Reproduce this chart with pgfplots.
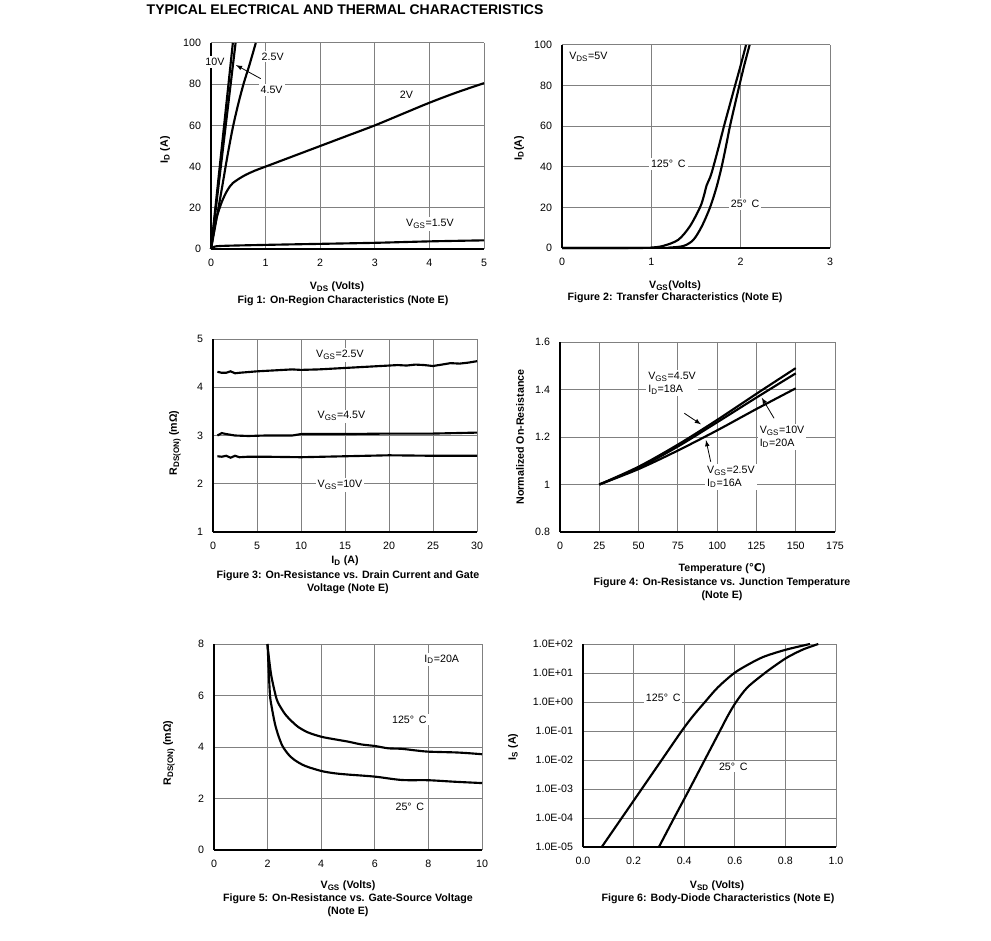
\documentclass[border=0pt]{standalone}
\usepackage{fontspec}
\setmainfont{Liberation Sans}
\newfontfamily\dejavu{DejaVu Sans}
\usepackage{pgfplots}
\pgfplotsset{compat=1.18}

\pgfplotsset{
  dsheet/.style={
    scale only axis, anchor=south west, clip=false,
    axis lines=left, axis line style={-, line width=1.6pt, black},
    grid=major, grid style={line width=0.75pt, gray},
    major tick length=0pt, minor tick length=0pt,
    tick label style={font=\fontsize{8}{9}\selectfont},
    /pgf/number format/assume math mode=true,
    xticklabel style={yshift=-4pt}, yticklabel style={xshift=-4pt},
  },
}
\tikzset{
  crv/.style={black, line width=1.6pt, mark=none},
  lbl/.style={font=\fontsize{8}{9.5}\selectfont, fill=white, inner sep=1.5pt},
  ttl/.style={font=\fontsize{8}{10}\selectfont\bfseries, align=center},
  arr/.style={-latex, line width=0.6pt, black},
}

\begin{document}
\begin{tikzpicture}
\path[use as bounding box] (0,0) rectangle (743.25pt,-705.75pt);

% Fig 1: on-region characteristics
\begin{axis}[dsheet, at={(158.25pt,-186.75pt)}, width=204.75pt, height=154.5pt,
  xmin=0, xmax=5, ymin=0, ymax=100, xtick={0,...,5}, ytick={0,20,...,100}]
\addplot[crv] coordinates {(0,0) (0.40,100)};
\addplot[crv] coordinates {(0,0) (0.45,100)};
\addplot[crv, smooth] coordinates {(0,0) (0.1,14.5) (0.2,29.5) (0.3,45) (0.4,59) (0.5,70.5) (0.6,80.5) (0.7,89) (0.82,100)};
\addplot[crv, smooth] coordinates {(0,0) (0.05,8) (0.1,15) (0.2,23) (0.3,28.5) (0.4,32) (0.6,35.5) (0.8,38) (1,40) (1.5,45) (2,50) (2.5,55) (3,60) (3.5,65.5) (4,71) (4.5,76) (5,80.5)};
\addplot[crv, smooth] coordinates {(0,0) (0.05,1) (0.2,1.5) (1,2) (2,2.5) (3,3) (4,3.7) (5,4.2)};
\node[lbl] at (axis cs:0.073,90.8) {10V};
\node[lbl] at (axis cs:1.13,93.4) {2.5V};
\node[lbl] at (axis cs:1.11,77.2) {4.5V};
\draw[arr] (axis cs:0.91,82.7) -- (axis cs:0.458,89.3);
\node[lbl] at (axis cs:3.58,75.1) {2V};
\node[lbl] at (axis cs:4.01,12.1) {V\textsubscript{GS}=1.5V};
\end{axis}

% Fig 2: transfer characteristics
\begin{axis}[dsheet, at={(421.5pt,-186pt)}, width=201pt, height=152.25pt,
  xmin=0, xmax=3, ymin=0, ymax=100, xtick={0,...,3}, ytick={0,20,...,100}]
\addplot[crv, smooth] coordinates {(0,0) (0.9,0.05) (1.0,0.2) (1.13,1) (1.30,4) (1.43,10.6) (1.545,20) (1.59,26) (1.62,31) (1.66,35) (1.694,40) (1.755,50) (1.813,60) (1.875,70) (1.937,80) (2.0,90) (2.06,100)};
\addplot[crv, smooth] coordinates {(0,0) (1.1,0.05) (1.2,0.2) (1.36,1) (1.47,4) (1.564,10.6) (1.657,20) (1.73,30) (1.787,40) (1.835,50) (1.88,60) (1.932,70) (1.985,80) (2.04,90) (2.10,100)};
\node[lbl] at (axis cs:0.295,94.2) {V\textsubscript{DS}=5V};
\node[lbl] at (axis cs:1.19,41.4) {125° \,C};
\node[lbl] at (axis cs:2.05,21.7) {25° \,C};
\end{axis}

% Fig 3: on-resistance vs drain current
\begin{axis}[dsheet, at={(159.75pt,-399pt)}, width=198pt, height=144.75pt,
  xmin=0, xmax=30, ymin=1, ymax=5, xtick={0,5,...,30}, ytick={1,...,5}]
\addplot[crv] coordinates {(0.5,4.32) (1,4.30) (1.5,4.30) (2,4.33) (2.5,4.29) (3,4.30) (5,4.33) (7,4.35) (9,4.37) (10,4.36) (12,4.37) (14,4.39) (16,4.41) (18,4.43) (20,4.45) (21,4.46) (22,4.45) (23,4.47) (24,4.46) (25,4.44) (26,4.47) (27,4.50) (28,4.49) (29,4.51) (30,4.54)};
\addplot[crv] coordinates {(0.5,3.0) (1,3.05) (1.5,3.03) (2.5,3.0) (4,2.99) (6,3.0) (9,3.0) (10,3.03) (15,3.03) (20,3.04) (25,3.04) (30,3.06)};
\addplot[crv] coordinates {(0.5,2.57) (1,2.56) (1.5,2.58) (2,2.54) (2.5,2.58) (3,2.55) (4,2.56) (6,2.56) (10,2.55) (15,2.57) (20,2.59) (25,2.58) (30,2.58)};
\node[lbl] at (axis cs:14.43,4.668) {V\textsubscript{GS}=2.5V};
\node[lbl] at (axis cs:14.6,3.40) {V\textsubscript{GS}=4.5V};
\node[lbl] at (axis cs:14.43,1.974) {V\textsubscript{GS}=10V};
\end{axis}

% Fig 4: on-resistance vs junction temperature
\begin{axis}[dsheet, at={(420pt,-399pt)}, width=206.25pt, height=142.5pt,
  xmin=0, xmax=175, ymin=0.8, ymax=1.6, xtick={0,25,...,175}, ytick={0.8,1,1.2,1.4,1.6}]
\addplot[crv, smooth] coordinates {(25,1) (50,1.075) (75,1.168) (100,1.272) (125,1.382) (150,1.49)};
\addplot[crv, smooth] coordinates {(25,1) (50,1.07) (75,1.16) (100,1.262) (125,1.366) (150,1.468)};
\addplot[crv, smooth] coordinates {(25,1) (50,1.065) (75,1.143) (100,1.228) (125,1.318) (150,1.405)};
\node[lbl, align=left] at (axis cs:71.3,1.427) {V\textsubscript{GS}=4.5V\\I\textsubscript{D}=18A};
\draw[arr] (axis cs:79.1,1.30) -- (axis cs:89.7,1.2535);
\node[lbl, align=left] at (axis cs:141.3,1.20) {V\textsubscript{GS}=10V\\I\textsubscript{D}=20A};
\draw[arr] (axis cs:136.2,1.279) -- (axis cs:128.4,1.3655);
\node[lbl, align=left] at (axis cs:108.8,1.032) {V\textsubscript{GS}=2.5V\\I\textsubscript{D}=16A};
\draw[arr] (axis cs:95.9,1.096) -- (axis cs:92.9,1.187);
\end{axis}

% Fig 5: on-resistance vs gate-source voltage
\begin{axis}[dsheet, at={(160.5pt,-637.5pt)}, width=201pt, height=154.5pt,
  xmin=0, xmax=10, ymin=0, ymax=8, xtick={0,2,...,10}, ytick={0,2,...,8}]
\addplot[crv, smooth] coordinates {(1.99,8) (2.08,7.2) (2.15,6.7) (2.3,6.0) (2.4,5.7) (2.65,5.28) (2.9,5.0) (3.14,4.78) (3.5,4.57) (4,4.40) (4.5,4.3) (5,4.21) (5.5,4.1) (6,4.04) (6.5,3.95) (7,3.93) (7.5,3.87) (8,3.82) (9,3.79) (9.5,3.76) (10,3.72)};
\addplot[crv, smooth] coordinates {(2.0,8) (2.04,7) (2.09,6) (2.15,5.57) (2.27,4.92) (2.4,4.45) (2.55,4.05) (2.77,3.72) (3.0,3.5) (3.39,3.27) (4,3.07) (4.5,2.98) (5,2.93) (6,2.85) (7,2.72) (8,2.71) (9,2.65) (10,2.6)};
\node[lbl] at (axis cs:8.5,7.41) {I\textsubscript{D}=20A};
\node[lbl] at (axis cs:7.29,5.07) {125° \,C};
\node[lbl] at (axis cs:7.31,1.68) {25° \,C};
\end{axis}

% Fig 6: body-diode characteristics
\begin{axis}[dsheet, at={(437.25pt,-635.25pt)}, width=189.75pt, height=152.25pt,
  xmin=0, xmax=1, ymin=1e-5, ymax=1e2, ymode=log,
  xtick={0,0.2,0.4,0.6,0.8,1},
  xticklabel style={/pgf/number format/.cd, fixed, fixed zerofill, precision=1},
  ytick={1e-5,1e-4,1e-3,1e-2,1e-1,1,1e1,1e2},
  yticklabels={1.0E-05,1.0E-04,1.0E-03,1.0E-02,1.0E-01,1.0E+00,1.0E+01,1.0E+02}]
\addplot[crv, smooth] coordinates {(0.074,1e-5) (0.153,1e-4) (0.232,1e-3) (0.311,1e-2) (0.39,0.1) (0.435,0.33) (0.482,1) (0.533,3.2) (0.598,10) (0.655,20) (0.713,36) (0.8,63) (0.897,100)};
\addplot[crv, smooth] coordinates {(0.30,1e-5) (0.36,1e-4) (0.421,1e-3) (0.481,1e-2) (0.541,0.1) (0.572,0.33) (0.605,1) (0.65,3.2) (0.719,10) (0.77,21) (0.811,36) (0.87,65) (0.93,100)};
\node[lbl] at (axis cs:0.317,1.45) {125° \,C};
\node[lbl] at (axis cs:0.594,5.9e-3) {25° \,C};
\end{axis}

% titles, axis labels and captions (pixel grid of the page)
\begin{scope}[x=0.75pt, y=-0.75pt]
\node[anchor=west, font=\fontsize{10.5}{12}\selectfont\bfseries] at (142,9.5) {TYPICAL ELECTRICAL AND THERMAL CHARACTERISTICS};

\node[ttl, rotate=90] at (165,150) {I\textsubscript{D} (A)};
\node[ttl] at (337,287) {V\textsubscript{DS} (Volts)};
\node[ttl] at (343,301) {Fig 1: On-Region Characteristics (Note E)};

\node[ttl, rotate=90] at (519,148) {I\textsubscript{D}(A)};
\node[ttl] at (675,286) {V\textsubscript{GS}(Volts)};
\node[ttl] at (675,297.5) {Figure 2: Transfer Characteristics (Note E)};

\node[ttl, rotate=90] at (175,443) {R\textsubscript{DS(ON)} (mΩ)};
\node[ttl] at (345,561) {I\textsubscript{D} (A)};
\node[ttl] at (348,582.5) {Figure 3: On-Resistance vs. Drain Current and Gate\\Voltage (Note E)};

\node[ttl, rotate=90] at (520,437) {Normalized On-Resistance};
\node[ttl] at (722,569) {Temperature ({\dejavu ℃})};
\node[ttl] at (722,589) {Figure 4: On-Resistance vs. Junction Temperature\\(Note E)};

\node[ttl, rotate=90] at (169,753) {R\textsubscript{DS(ON)} (mΩ)};
\node[ttl] at (348,886) {V\textsubscript{GS} (Volts)};
\node[ttl] at (348,905) {Figure 5: On-Resistance vs. Gate-Source Voltage\\(Note E)};

\node[ttl, rotate=90] at (513,747) {I\textsubscript{S} (A)};
\node[ttl] at (717,886) {V\textsubscript{SD} (Volts)};
\node[ttl] at (718,899) {Figure 6: Body-Diode Characteristics (Note E)};
\end{scope}
\end{tikzpicture}
\end{document}
